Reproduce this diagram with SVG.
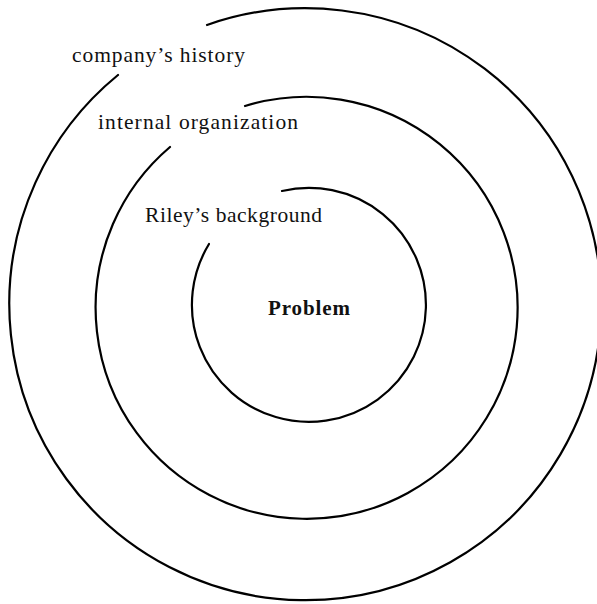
<svg xmlns="http://www.w3.org/2000/svg" width="597" height="604" viewBox="0 0 597 604">
  <style>
    .ring { fill: none; stroke: #000; stroke-width: 2.2; stroke-linecap: round; }
    .lbl { font-family: "Liberation Serif", "Times New Roman", serif; font-size: 21.5px; fill: #111; }
    .core { font-family: "Liberation Serif", "Times New Roman", serif; font-size: 21px; font-weight: bold; fill: #111; }
  </style>
  <rect width="597" height="604" fill="#fff"/>
  <g id="connectors"></g>
  <!-- outer ring: company's history -->
  <g id="ring-history">
    <path class="ring" d="M207,25 A296,296 0 1 1 118,75"/>
    <text class="lbl" x="72" y="62" textLength="173" lengthAdjust="spacing">company’s history</text>
  </g>
  <!-- middle ring: internal organization -->
  <g id="ring-organization">
    <path class="ring" d="M245,106 A211,211 0 1 1 170,147"/>
    <text class="lbl" x="98" y="129" textLength="200" lengthAdjust="spacing">internal organization</text>
  </g>
  <!-- inner ring: Riley's background -->
  <g id="ring-background">
    <path class="ring" d="M282,191 A117,117 0 1 1 209,244"/>
    <text class="lbl" x="145" y="222" textLength="177" lengthAdjust="spacing">Riley’s background</text>
  </g>
  <!-- centre -->
  <g id="problem">
    <text class="core" x="268" y="315" textLength="82" lengthAdjust="spacing">Problem</text>
  </g>
</svg>
